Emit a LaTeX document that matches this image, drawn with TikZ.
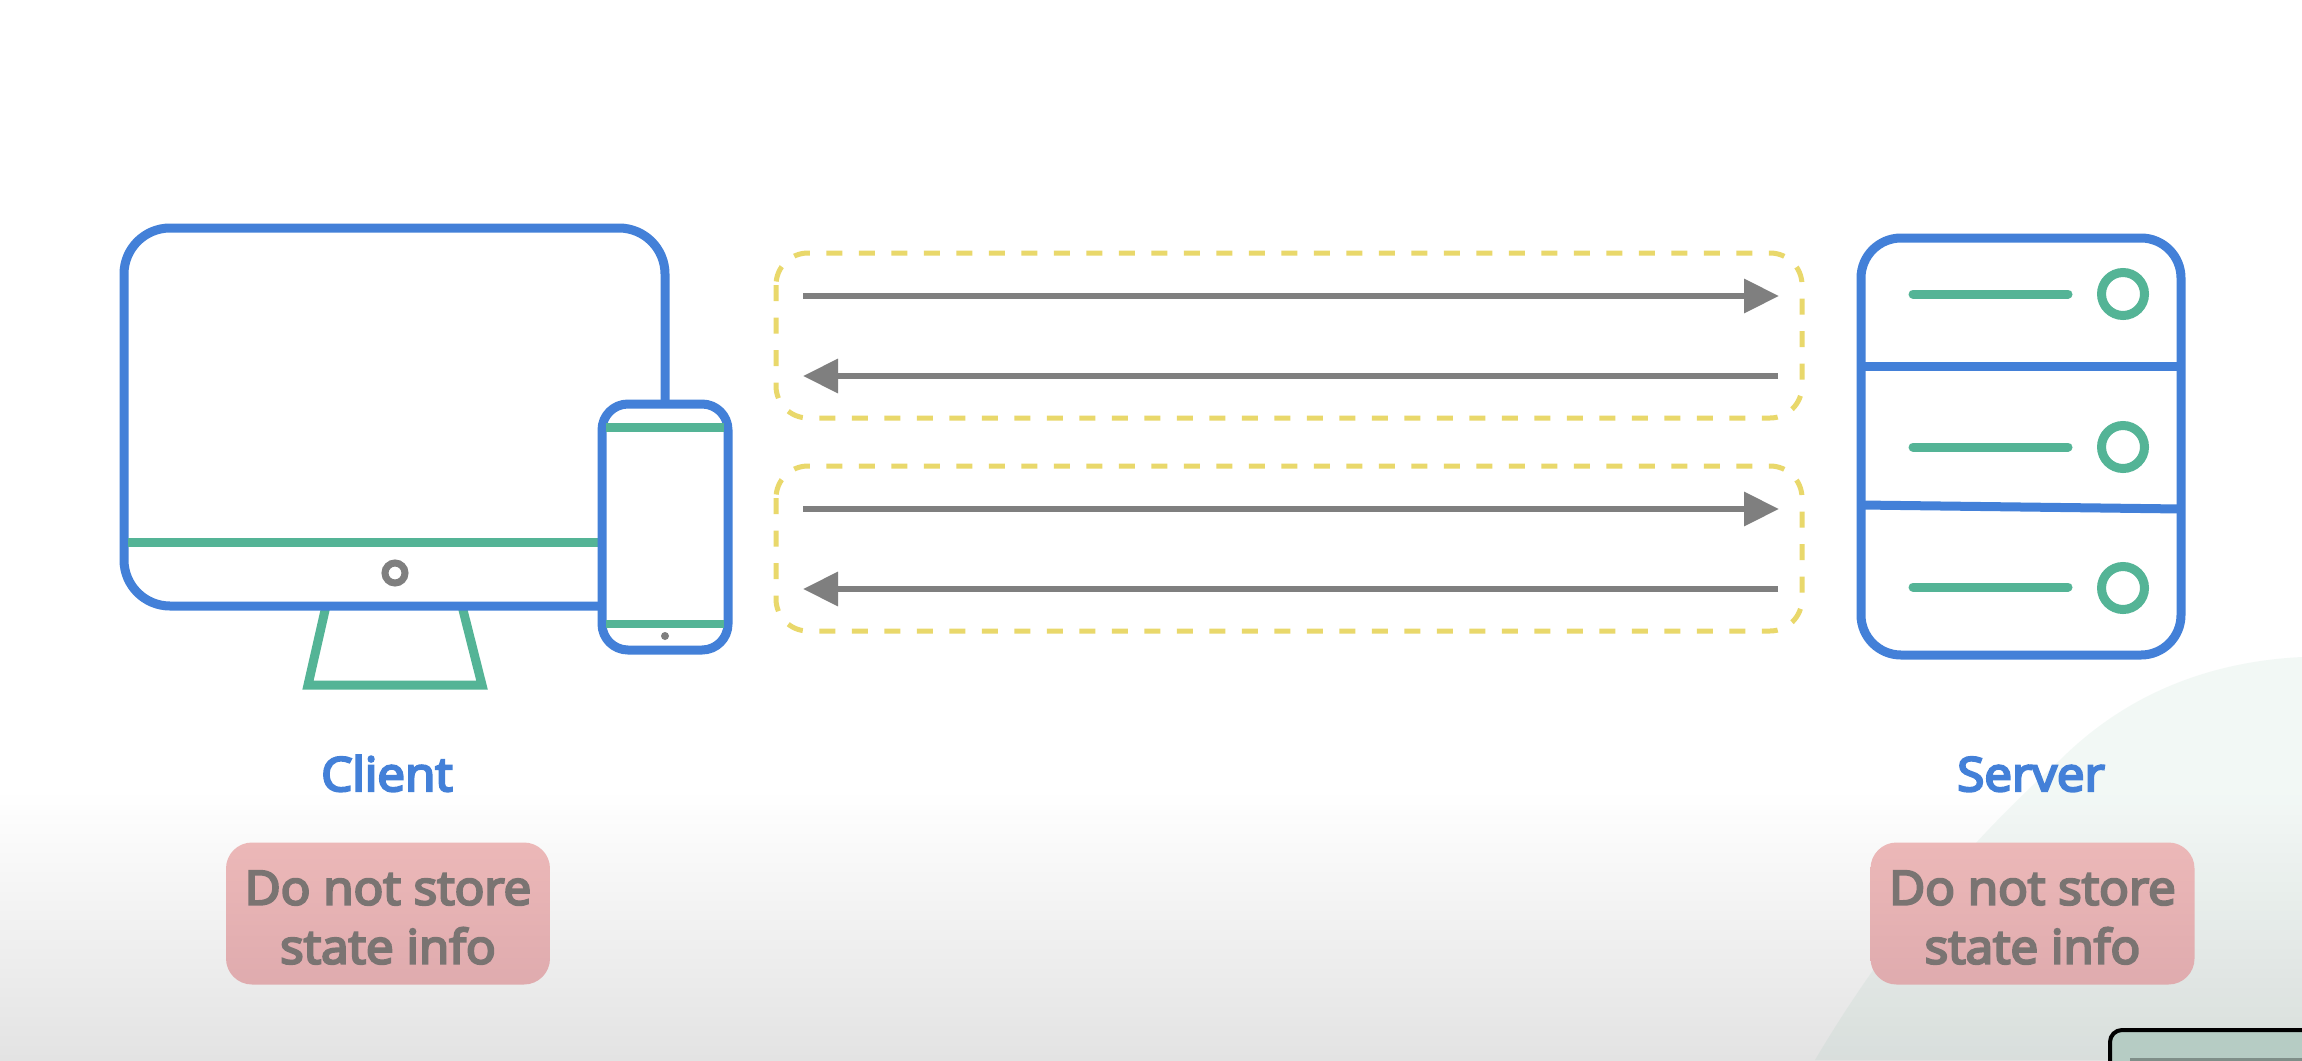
\documentclass[tikz,border=0pt]{standalone}
\usepackage{fontspec}
\usetikzlibrary{arrows.meta,shapes.geometric}
\newfontfamily\lblfont{Open Sans}[FakeBold=5,FakeStretch=1.05]
\definecolor{cblue}{HTML}{4380D8}
\definecolor{cgreen}{HTML}{54B496}
\definecolor{cgray}{HTML}{7F7F7F}
\definecolor{cyellow}{HTML}{E9D86B}
\definecolor{ctext}{HTML}{7A7472}
\definecolor{cpinktop}{HTML}{ECB8B8}
\definecolor{cpinkbot}{HTML}{DFABAE}
\definecolor{cblob}{RGB}{100,170,140}
\definecolor{cinset}{HTML}{B6CCC4}
\tikzset{
  x=1pt,y=-1pt,
  blueline/.style={draw=cblue,line width=9pt},
  greenline/.style={draw=cgreen,line width=9pt},
  groupbox/.style={draw=cyellow,line width=5pt,rounded corners=32pt,dash pattern=on 16pt off 16.5pt},
  flow/.style={draw=cgray,line width=6.5pt,-{Triangle[length=35pt,width=33pt]}},
  label/.style={font=\lblfont\fontsize{47}{47}\selectfont,text=cblue,anchor=base},
  notebox/.style={rounded corners=26pt,top color=cpinktop,bottom color=cpinkbot,draw=none,inner sep=0pt,
    minimum width=324pt,minimum height=142pt},
  notetext/.style={inner sep=0pt,font=\lblfont\fontsize{47}{59}\selectfont,text=ctext,align=center},
  ledline/.style={draw=cgreen,line width=9pt,line cap=round},
  led/.style={circle,draw=cgreen,line width=9pt,fill=none,minimum size=43pt,inner sep=0pt},
}
\begin{document}
\begin{tikzpicture}
\useasboundingbox (0,0) rectangle (2302,1060);
% background
\fill[white] (0,0) rectangle (2302,1060);
\shade[top color=white,bottom color=black!11] (0,790) rectangle (2302,1060);
\fill[cblob,opacity=.08] (2302,657) .. controls (2200,662) and (2120,700) .. (2060,760)
  .. controls (1960,850) and (1880,950) .. (1815,1060) -- (2302,1060) -- cycle;
% inset corner
\draw[black,line width=4pt,fill=cinset,rounded corners=12pt] (2110,1075) -- (2110,1030) -- (2320,1030) -- (2320,1075) -- cycle;
\draw[draw=cinset!70!black,line width=3pt] (2130,1059) -- (2302,1059);
% monitor stand
\draw[greenline,miter limit=10] (326,606) -- (308,685) -- (482,685) -- (462,606);
% monitor
\draw[blueline,fill=white,rounded corners=46pt] (124,228) rectangle (665,606);
\draw[greenline] (128,542) -- (602,542);
\node[circle,draw=cgray,line width=7pt,minimum size=20pt,inner sep=0pt] (power) at (395,573) {};
% phone
\draw[blueline,fill=white,rounded corners=26pt] (602,404) rectangle (728,650);
\draw[greenline] (606,427) -- (724,427);
\draw[greenline,line width=8pt] (606,624) -- (724,624);
\node[circle,fill=cgray,minimum size=8pt,inner sep=0pt] (home) at (665,636) {};
% flows
\draw[groupbox] (776,253) rectangle (1802,418);
\draw[groupbox] (776,466) rectangle (1802,631);
\coordinate (a1) at (803,296); \coordinate (b1) at (1779,296);
\coordinate (a2) at (803,376); \coordinate (b2) at (1778,376);
\coordinate (a3) at (803,509); \coordinate (b3) at (1779,509);
\coordinate (a4) at (803,589); \coordinate (b4) at (1778,589);
\draw[flow] (a1) -- (b1);
\draw[flow] (b2) -- (a2);
\draw[flow] (a3) -- (b3);
\draw[flow] (b4) -- (a4);
% server
\draw[blueline,rounded corners=40pt] (1861,238) rectangle (2181,655);
\draw[blueline] (1861,366) -- (2181,366);
\draw[blueline] (1861,505) -- (2181,509);
\draw[ledline] (1913,294) -- (2068,294);
\draw[ledline] (1913,447) -- (2068,447);
\draw[ledline] (1913,587) -- (2068,587);
\node[led] (l1) at (2123,294) {};
\node[led] (l2) at (2123,447) {};
\node[led] (l3) at (2123,588) {};
% labels
\node[label] (client) at (387,791) {Client};
\node[label] (server) at (2031,791) {Server};
\node[notebox] (n1) at (388,913.5) {};
\node[notebox] (n2) at (2032.5,913.5) {};
\node[notetext] (t1) at (388,917.5) {Do not store\\state info};
\node[notetext] (t2) at (2032.5,917.5) {Do not store\\state info};
\end{tikzpicture}
\end{document}
